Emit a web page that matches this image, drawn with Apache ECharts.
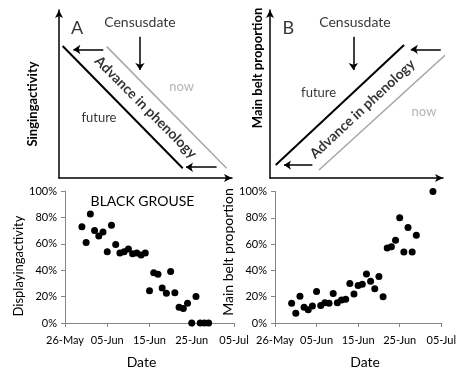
<!DOCTYPE html>
<html><head><meta charset="utf-8">
<script src="https://cdn.jsdelivr.net/npm/echarts@6/dist/echarts.min.js"></script>
<style>html,body{margin:0;padding:0;background:#fff}#c{width:459px;height:370px}</style>
</head><body><div id="c"></div>
<script>
// ---- data ----
const xTickLabels = ['26-May', '05-Jun', '15-Jun', '25-Jun', '05-Jul'];
// days after 26 May
const grouseDays = [4,5,6,7,8,9,10,11,12,13,14,15,16,17,18,19,20,21,22,23,24,25,26,27,28,29,30,31,32,33,34];
const grouseVals = [73,61,82.5,70,66,69,54,74,59.5,53,54,56,52.5,53,51.5,53,24.5,38,37,26.5,22.5,39,23,12,11,15,0,20,0,0,0];
const beltDays = [4,5,6,7,8,9,10,11,12,13,14,15,16,17,18,19,20,21,22,23,24,25,26,27,28,29,30,31,32,33,34,38];
const beltVals = [15,7.5,20.4,12,10,13,24,13.4,15.4,15,22.4,15.4,17.4,18,30,22,28.6,29.4,37.3,31.8,26,35.3,20,57,58,63,80,54,72.6,54,66.7,100];

// schematic panels (normalised 0-100 units)
const lineA_future = [[2.1, 78.6], [71.5, 5.8]];
const lineA_now = [[27.6, 78.2], [96.9, 5.8]];
const arrowsA = [[[25.6, 76.5], [8.3, 76.5]], [[91.1, 6.4], [73.4, 6.4]], [[46.8, 84.1], [46.8, 64.3]]];
const lineB_future = [[3.3, 7.7], [77.5, 79.2]];
const lineB_now = [[28.3, 4.8], [104.5, 76.2]];
const arrowsB = [[[98.7, 76.6], [81.4, 76.6]], [[24.5, 7.7], [8.1, 7.7]], [[48.2, 84.1], [48.2, 64.3]]];
const textsA = [
  {t: 'A', p: [10.4, 89.3], size: 18},
  {t: 'Censusdate', p: [46.8, 92.3], size: 14},
  {t: 'now', p: [70.9, 54.3], size: 13, color: '#a0a0a0'},
  {t: 'future', p: [23.1, 35.7], size: 13},
  {t: 'Advance in phenology', p: [50.1, 42.1], size: 14, bold: true, rot: -45}
];
const textsB = [
  {t: 'B', p: [10.6, 89.3], size: 18},
  {t: 'Censusdate', p: [49.1, 92.3], size: 14},
  {t: 'now', p: [89, 39.5], size: 13, color: '#a0a0a0'},
  {t: 'future', p: [28.1, 50.6], size: 13},
  {t: 'Advance in phenology', p: [53.4, 41.1], size: 14, bold: true, rot: 43}
];

const FONT = 'Lato, "Liberation Sans", sans-serif';
const chart = echarts.init(document.getElementById('c'), null, {renderer: 'canvas'});

function schemAxis(gridIndex) {
  return {
    type: 'value', gridIndex, min: 0, max: 100,
    axisLine: {show: true, lineStyle: {color: '#000', width: 1.5}, symbol: ['none', 'arrow'], symbolSize: [6, 8]},
    axisTick: {show: false}, axisLabel: {show: false}, splitLine: {show: false}
  };
}
function dataX(gridIndex, name, pad) {
  return {
    type: 'value', gridIndex, min: 0, max: 40, interval: 10,
    axisLine: {lineStyle: {color: '#868686', width: 1}},
    axisTick: {show: true, inside: false, length: 4, lineStyle: {color: '#868686'}},
    axisLabel: {fontFamily: FONT, fontSize: 11, color: '#000', margin: 12,
      formatter: v => xTickLabels[Math.round(v / 10)]},
    splitLine: {show: false},
    name, nameLocation: 'middle', nameGap: 32,
    nameTextStyle: {fontFamily: FONT, fontSize: 14, color: '#000', padding: pad}
  };
}
function dataY(gridIndex) {
  return {
    type: 'value', gridIndex, min: 0, max: 100, interval: 20,
    axisLine: {show: true, lineStyle: {color: '#868686', width: 1}},
    axisTick: {show: true, inside: false, length: 4, lineStyle: {color: '#868686'}},
    axisLabel: {fontFamily: FONT, fontSize: 11, color: '#000', margin: 8, formatter: v => v + '%'},
    splitLine: {show: false}
  };
}
function textSeries(idx, texts) {
  return {
    type: 'scatter', xAxisIndex: idx, yAxisIndex: idx, symbolSize: 0, silent: true, z: 5,
    data: texts.map(o => ({
      value: o.p,
      label: {show: true, position: 'inside', formatter: o.t, rotate: o.rot || 0,
        fontFamily: FONT, fontSize: o.size, fontWeight: o.bold ? 'bold' : 'normal', color: o.color || '#000'}
    }))
  };
}
function lineSeries(idx, pts, color, w) {
  return {type: 'line', xAxisIndex: idx, yAxisIndex: idx, data: pts, symbol: 'none', clip: false, silent: true,
    lineStyle: {color, width: w}};
}
function arrowSeries(idx, arr) {
  return {type: 'lines', coordinateSystem: 'cartesian2d', xAxisIndex: idx, yAxisIndex: idx, silent: true,
    symbol: ['none', 'arrow'], symbolSize: 7,
    lineStyle: {color: '#000', width: 1.5, opacity: 1},
    data: arr.map(c => ({coords: c}))};
}
function vTitle(text, x, y, size, bold) {
  return {type: 'text', x, y, rotation: Math.PI / 2, silent: true,
    style: {text, fill: '#000', align: 'center', verticalAlign: 'middle',
      font: (bold ? 'bold ' : '') + size + 'px ' + FONT}};
}

chart.setOption({
  animation: false,
  title: {text: 'BLACK GROUSE', left: 137.5, top: 189, textAlign: 'center',
    textStyle: {fontFamily: FONT, fontSize: 14, fontWeight: 'normal', color: '#000'}},
  grid: [
    {left: 59, top: 10, width: 173, height: 168},
    {left: 270, top: 10, width: 173, height: 168},
    {left: 65, top: 191, width: 169, height: 133.3},
    {left: 275, top: 191.5, width: 169, height: 134}
  ],
  xAxis: [
    schemAxis(0), schemAxis(1),
    dataX(2, 'Date', [0, 16, 0, 0]), dataX(3, 'Date', [0, 0, 0, 14])
  ],
  yAxis: [schemAxis(0), schemAxis(1), dataY(2), dataY(3)],
  graphic: [
    vTitle('Singingactivity', 33, 104, 13, true),
    vTitle('Main belt proportion', 258, 68, 13, true),
    vTitle('Displayingactivity', 18.5, 266, 13, false),
    vTitle('Main belt proportion', 228.5, 252, 14, false)
  ],
  series: [
    lineSeries(0, lineA_future, '#000', 2),
    lineSeries(0, lineA_now, '#a6a6a6', 1.5),
    arrowSeries(0, arrowsA),
    textSeries(0, textsA),
    lineSeries(1, lineB_future, '#000', 2),
    lineSeries(1, lineB_now, '#a6a6a6', 1.5),
    arrowSeries(1, arrowsB),
    textSeries(1, textsB),
    {type: 'scatter', xAxisIndex: 2, yAxisIndex: 2, symbolSize: 7, itemStyle: {color: '#000', opacity: 1},
      data: grouseDays.map((d, i) => [d, grouseVals[i]])},
    {type: 'scatter', xAxisIndex: 3, yAxisIndex: 3, symbolSize: 7, itemStyle: {color: '#000', opacity: 1},
      data: beltDays.map((d, i) => [d, beltVals[i]])}
  ]
});
</script></body></html>
